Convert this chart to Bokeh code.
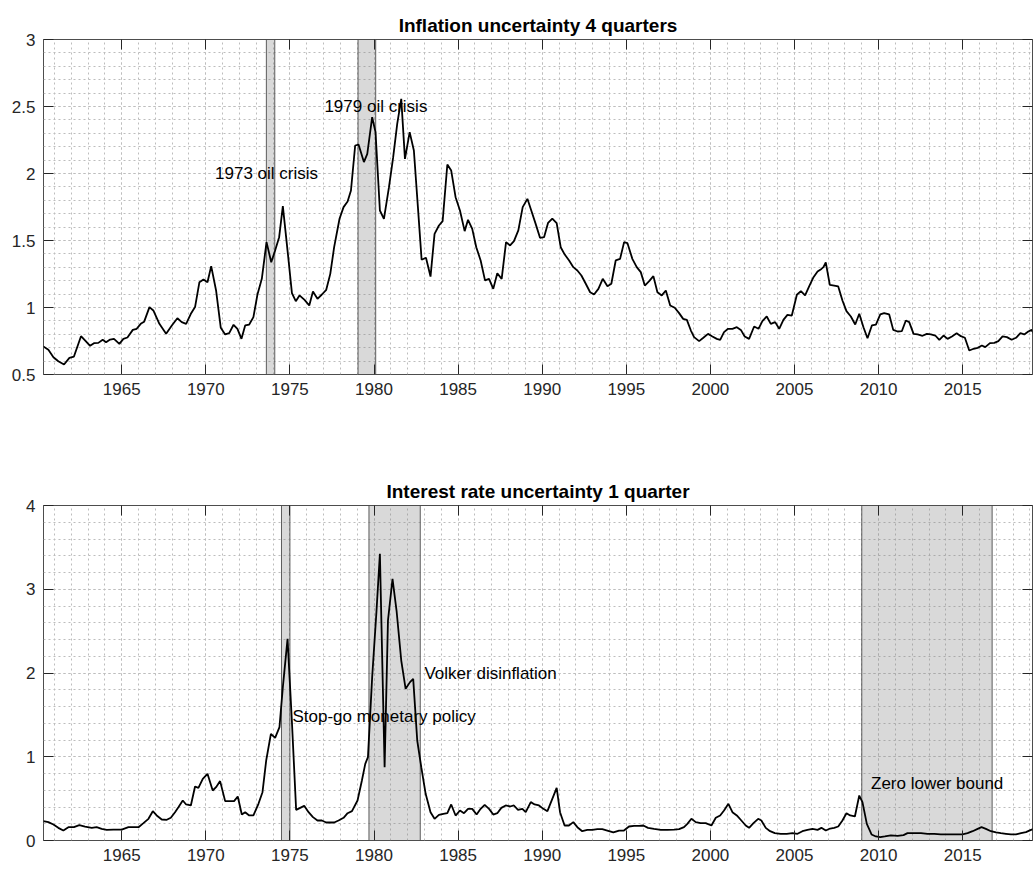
from bokeh.plotting import figure
from bokeh.layouts import column
from bokeh.models import (SingleIntervalTicker, NumeralTickFormatter, LinearAxis,
                          Range1d, ColumnDataSource, BoxAnnotation)
from bokeh.core.properties import value
from bokeh.embed import file_html
from bokeh.resources import INLINE

# ---------------- data ----------------
infl_year = [1960.34, 1960.64, 1960.94, 1961.23, 1961.57, 1961.89, 1962.16, 1962.58, 1962.86, 1963.12,
             1963.35, 1963.61, 1963.87, 1964.07, 1964.31, 1964.54, 1964.86, 1965.10, 1965.34, 1965.66,
             1965.89, 1966.13, 1966.33, 1966.65, 1966.88, 1967.24, 1967.64, 1967.98, 1968.31, 1968.57,
             1968.83, 1969.11, 1969.36, 1969.62, 1969.86, 1970.10, 1970.32, 1970.61, 1970.89, 1971.15,
             1971.39, 1971.65, 1971.88, 1972.12, 1972.34, 1972.58, 1972.83, 1973.07, 1973.33, 1973.61,
             1973.89, 1974.12, 1974.36, 1974.58, 1974.88, 1975.12, 1975.35, 1975.57, 1975.87, 1976.15,
             1976.37, 1976.64, 1976.90, 1977.16, 1977.40, 1977.63, 1977.95, 1978.19, 1978.43, 1978.63,
             1978.88, 1979.08, 1979.40, 1979.60, 1979.89, 1980.09, 1980.35, 1980.59, 1980.89, 1981.14,
             1981.38, 1981.62, 1981.84, 1982.12, 1982.37, 1982.61, 1982.83, 1983.09, 1983.36, 1983.60,
             1983.86, 1984.08, 1984.36, 1984.59, 1984.85, 1985.11, 1985.39, 1985.59, 1985.84, 1986.08,
             1986.34, 1986.60, 1986.84, 1987.09, 1987.33, 1987.59, 1987.85, 1988.09, 1988.32, 1988.58,
             1988.84, 1989.12, 1989.35, 1989.61, 1989.87, 1990.11, 1990.35, 1990.60, 1990.86, 1991.10,
             1991.34, 1991.60, 1991.85, 1992.09, 1992.33, 1992.59, 1992.85, 1993.08, 1993.34, 1993.60,
             1993.88, 1994.11, 1994.37, 1994.63, 1994.87, 1995.07, 1995.36, 1995.62, 1995.86, 1996.10,
             1996.36, 1996.61, 1996.85, 1997.11, 1997.35, 1997.61, 1997.88, 1998.14, 1998.38, 1998.60,
             1998.84, 1999.03, 1999.33, 1999.58, 1999.86, 2000.12, 2000.38, 2000.58, 2000.81, 2001.05,
             2001.31, 2001.57, 2001.81, 2002.04, 2002.30, 2002.60, 2002.86, 2003.09, 2003.35, 2003.59,
             2003.85, 2004.09, 2004.34, 2004.58, 2004.84, 2005.14, 2005.38, 2005.63, 2005.87, 2006.13,
             2006.37, 2006.60, 2006.72, 2006.86, 2007.10, 2007.36, 2007.60, 2007.85, 2008.09, 2008.35,
             2008.61, 2008.85, 2009.10, 2009.34, 2009.60, 2009.84, 2010.10, 2010.33, 2010.63, 2010.87,
             2011.13, 2011.38, 2011.62, 2011.82, 2012.08, 2012.32, 2012.61, 2012.87, 2013.11, 2013.37,
             2013.61, 2013.86, 2014.10, 2014.36, 2014.64, 2014.89, 2015.13, 2015.39, 2015.65, 2015.89,
             2016.14, 2016.34, 2016.62, 2016.88, 2017.12, 2017.37, 2017.63, 2017.91, 2018.17, 2018.43,
             2018.66, 2018.90, 2019.10, 2019.24]
infl_val = [0.709, 0.684, 0.629, 0.599, 0.575, 0.624, 0.634, 0.786, 0.749, 0.714,
            0.734, 0.736, 0.759, 0.741, 0.761, 0.766, 0.729, 0.766, 0.776, 0.833,
            0.841, 0.878, 0.893, 1.003, 0.978, 0.878, 0.804, 0.866, 0.920, 0.891,
            0.878, 0.953, 1.003, 1.189, 1.209, 1.189, 1.309, 1.127, 0.848, 0.799,
            0.809, 0.871, 0.841, 0.766, 0.866, 0.873, 0.928, 1.097, 1.214, 1.488,
            1.338, 1.425, 1.525, 1.756, 1.400, 1.107, 1.047, 1.090, 1.057, 1.015,
            1.119, 1.065, 1.097, 1.132, 1.251, 1.450, 1.662, 1.749, 1.791, 1.873,
            2.209, 2.216, 2.085, 2.147, 2.420, 2.309, 1.724, 1.662, 1.898, 2.122,
            2.371, 2.557, 2.109, 2.309, 2.172, 1.749, 1.356, 1.371, 1.231, 1.550,
            1.612, 1.644, 2.067, 2.022, 1.823, 1.724, 1.570, 1.654, 1.587, 1.450,
            1.351, 1.202, 1.214, 1.139, 1.256, 1.214, 1.488, 1.463, 1.495, 1.575,
            1.749, 1.811, 1.724, 1.624, 1.520, 1.525, 1.632, 1.664, 1.629, 1.450,
            1.395, 1.351, 1.301, 1.276, 1.239, 1.177, 1.114, 1.097, 1.139, 1.214,
            1.159, 1.177, 1.351, 1.363, 1.488, 1.480, 1.363, 1.301, 1.264, 1.164,
            1.197, 1.234, 1.114, 1.090, 1.127, 1.015, 0.998, 0.958, 0.915, 0.908,
            0.828, 0.779, 0.749, 0.774, 0.803, 0.784, 0.766, 0.759, 0.816, 0.841,
            0.841, 0.853, 0.833, 0.784, 0.766, 0.858, 0.841, 0.898, 0.933, 0.878,
            0.891, 0.841, 0.908, 0.945, 0.940, 1.095, 1.122, 1.090, 1.157, 1.226,
            1.269, 1.288, 1.301, 1.336, 1.169, 1.164, 1.157, 1.052, 0.973, 0.933,
            0.873, 0.953, 0.853, 0.771, 0.866, 0.873, 0.948, 0.958, 0.948, 0.833,
            0.821, 0.823, 0.903, 0.891, 0.803, 0.799, 0.789, 0.803, 0.799, 0.791,
            0.759, 0.791, 0.766, 0.784, 0.808, 0.786, 0.774, 0.679, 0.692, 0.699,
            0.716, 0.704, 0.734, 0.736, 0.749, 0.784, 0.779, 0.759, 0.774, 0.808,
            0.799, 0.821, 0.833, 0.803]

rate_year = [1960.34, 1960.64, 1960.94, 1961.23, 1961.53, 1961.83, 1962.16, 1962.48, 1962.82, 1963.22,
             1963.51, 1963.81, 1964.11, 1964.50, 1965.00, 1965.40, 1965.70, 1966.00, 1966.29, 1966.59,
             1966.85, 1967.08, 1967.38, 1967.68, 1967.92, 1968.17, 1968.37, 1968.63, 1968.83, 1969.11,
             1969.36, 1969.56, 1969.82, 1970.10, 1970.41, 1970.61, 1970.85, 1971.15, 1971.45, 1971.68,
             1971.90, 1972.14, 1972.34, 1972.58, 1972.83, 1973.13, 1973.37, 1973.59, 1973.87, 1974.12,
             1974.38, 1974.58, 1974.86, 1975.12, 1975.37, 1975.61, 1975.85, 1976.11, 1976.37, 1976.64,
             1976.90, 1977.16, 1977.40, 1977.63, 1977.89, 1978.19, 1978.43, 1978.69, 1979.02, 1979.28,
             1979.48, 1979.64, 1979.89, 1980.15, 1980.35, 1980.63, 1980.83, 1981.10, 1981.34, 1981.62,
             1981.88, 1982.14, 1982.33, 1982.57, 1982.81, 1983.07, 1983.36, 1983.60, 1983.86, 1984.12,
             1984.36, 1984.59, 1984.85, 1985.11, 1985.35, 1985.59, 1985.84, 1986.10, 1986.34, 1986.58,
             1986.84, 1987.09, 1987.33, 1987.57, 1987.83, 1988.09, 1988.32, 1988.56, 1988.82, 1989.02,
             1989.32, 1989.55, 1989.81, 1990.07, 1990.31, 1990.60, 1990.86, 1991.06, 1991.33, 1991.59,
             1991.85, 1992.09, 1992.38, 1992.68, 1992.98, 1993.28, 1993.57, 1993.87, 1994.23, 1994.57,
             1994.86, 1995.16, 1995.46, 1995.76, 1996.01, 1996.29, 1996.65, 1997.05, 1997.44, 1997.84,
             1998.14, 1998.43, 1998.63, 1998.87, 1999.13, 1999.42, 1999.72, 2000.06, 2000.32, 2000.58,
             2000.81, 2001.07, 2001.31, 2001.57, 2001.84, 2002.10, 2002.30, 2002.56, 2002.84, 2003.03,
             2003.29, 2003.55, 2003.83, 2004.18, 2004.54, 2004.88, 2005.18, 2005.47, 2005.77, 2006.07,
             2006.37, 2006.60, 2006.86, 2007.12, 2007.36, 2007.60, 2007.85, 2008.09, 2008.31, 2008.59,
             2008.85, 2009.04, 2009.30, 2009.58, 2009.84, 2010.10, 2010.37, 2010.73, 2011.13, 2011.48,
             2011.72, 2012.12, 2012.52, 2012.91, 2013.31, 2013.70, 2014.10, 2014.50, 2014.99, 2015.29,
             2015.59, 2015.89, 2016.12, 2016.38, 2016.68, 2016.98, 2017.27, 2017.57, 2017.87, 2018.17,
             2018.47, 2018.76, 2019.06, 2019.24]
rate_val = [0.231, 0.219, 0.191, 0.151, 0.119, 0.159, 0.159, 0.183, 0.167, 0.151,
            0.159, 0.139, 0.127, 0.131, 0.131, 0.159, 0.159, 0.159, 0.207, 0.259,
            0.350, 0.299, 0.251, 0.247, 0.271, 0.338, 0.398, 0.478, 0.430, 0.418,
            0.645, 0.629, 0.736, 0.796, 0.597, 0.637, 0.709, 0.470, 0.470, 0.470,
            0.526, 0.310, 0.338, 0.299, 0.299, 0.438, 0.577, 0.955, 1.274, 1.226,
            1.353, 1.831, 2.408, 1.413, 0.366, 0.390, 0.414, 0.338, 0.279, 0.239,
            0.239, 0.215, 0.215, 0.215, 0.239, 0.271, 0.326, 0.350, 0.478, 0.716,
            0.915, 0.995, 1.950, 2.746, 3.423, 0.876, 2.627, 3.124, 2.746, 2.149,
            1.811, 1.891, 1.930, 1.194, 0.876, 0.557, 0.338, 0.259, 0.306, 0.318,
            0.326, 0.430, 0.298, 0.358, 0.326, 0.378, 0.378, 0.310, 0.378, 0.426,
            0.378, 0.310, 0.326, 0.390, 0.418, 0.406, 0.418, 0.366, 0.378, 0.338,
            0.458, 0.430, 0.418, 0.378, 0.350, 0.497, 0.629, 0.338, 0.179, 0.179,
            0.219, 0.159, 0.111, 0.127, 0.127, 0.135, 0.135, 0.119, 0.096, 0.119,
            0.119, 0.167, 0.175, 0.175, 0.179, 0.151, 0.139, 0.127, 0.127, 0.131,
            0.135, 0.159, 0.199, 0.259, 0.219, 0.207, 0.207, 0.179, 0.271, 0.299,
            0.358, 0.438, 0.338, 0.299, 0.239, 0.179, 0.151, 0.207, 0.259, 0.239,
            0.151, 0.111, 0.088, 0.080, 0.080, 0.088, 0.080, 0.111, 0.127, 0.139,
            0.127, 0.151, 0.119, 0.143, 0.151, 0.167, 0.239, 0.326, 0.299, 0.287,
            0.537, 0.458, 0.199, 0.072, 0.048, 0.040, 0.048, 0.060, 0.056, 0.064,
            0.088, 0.088, 0.088, 0.080, 0.080, 0.072, 0.072, 0.072, 0.072, 0.088,
            0.111, 0.139, 0.159, 0.139, 0.111, 0.096, 0.088, 0.080, 0.072, 0.072,
            0.088, 0.100, 0.127, 0.139]

infl_shade_start = [1973.6, 1979.05]
infl_shade_end = [1974.1, 1980.1]
rate_shade_start = [1974.5, 1979.7, 2009.0]
rate_shade_end = [1975.0, 1982.75, 2016.75]

infl_labels = ["1973 oil crisis", "1979 oil crisis"]
infl_label_x = [1970.55, 1977.05]
infl_label_y = [2.0, 2.5]
rate_labels = ["Stop-go monetary policy", "Volker disinflation", "Zero lower bound"]
rate_label_x = [1975.15, 1983.0, 2009.55]
rate_label_y = [1.48, 2.0, 0.68]

titles = ["Inflation uncertainty 4 quarters", "Interest rate uncertainty 1 quarter"]
x_limits = (1960.35, 2019.15)

FONT = "Liberation Sans"
AX_COLOR = "#262626"
GRID_COLOR = "#bdbdbd"


def style_axis(ax, show_labels=True):
    ax.major_tick_in = 10
    ax.major_tick_out = 0
    ax.minor_tick_in = 0
    ax.minor_tick_out = 0
    ax.axis_line_color = None
    ax.major_tick_line_color = AX_COLOR
    ax.major_tick_line_width = 1
    ax.major_label_text_font = FONT
    ax.major_label_text_color = AX_COLOR
    if show_labels:
        ax.major_label_text_font_size = "17px"
        ax.major_label_standoff = 8
    else:
        ax.major_label_text_font_size = "0px"
        ax.major_label_standoff = 0


def make_fig(title, y0, y1, yint, ynminor, border_top, border_bottom,
             years, vals, s_start, s_end, lab_x, lab_y, labs):
    p = figure(width=1033, height=436,
               x_range=Range1d(*x_limits), y_range=Range1d(y0, y1),
               output_backend="svg", toolbar_location=None,
               min_border_left=43, min_border_right=1,
               min_border_top=border_top, min_border_bottom=border_bottom,
               title=title)
    p.title.align = "center"
    p.title.text_font = FONT
    p.title.text_font_size = "19px"
    p.title.text_font_style = "bold"
    p.title.text_color = "black"
    p.title.standoff = 8

    p.background_fill_color = "white"
    p.border_fill_color = "white"
    p.outline_line_color = "#4d4d4d"
    p.outline_line_width = 1

    xt = SingleIntervalTicker(interval=5, num_minor_ticks=5)
    yt = SingleIntervalTicker(interval=yint, num_minor_ticks=ynminor)
    p.xaxis.ticker = xt
    p.yaxis.ticker = yt
    p.xgrid.ticker = xt
    p.ygrid.ticker = yt
    p.xaxis.formatter = NumeralTickFormatter(format="0")
    p.yaxis.formatter = NumeralTickFormatter(format="0.[0]")
    style_axis(p.xaxis[0])
    style_axis(p.yaxis[0])

    # mirrored inward ticks on the top and right edges, as in a boxed axes
    top_ax = LinearAxis(ticker=xt)
    style_axis(top_ax, show_labels=False)
    p.add_layout(top_ax, "above")
    right_ax = LinearAxis(ticker=yt)
    style_axis(right_ax, show_labels=False)
    p.add_layout(right_ax, "right")

    for g in (p.xgrid[0], p.ygrid[0]):
        g.grid_line_color = GRID_COLOR
        g.grid_line_dash = "2 3"
        g.grid_line_width = 1
        g.minor_grid_line_color = GRID_COLOR
        g.minor_grid_line_dash = "2 3"
        g.minor_grid_line_width = 1

    for s, e in zip(s_start, s_end):
        p.add_layout(BoxAnnotation(left=s, right=e, fill_color="#808080", fill_alpha=0.3,
                                   line_color="#4d4d4d", line_width=1, line_alpha=0.9,
                                   level="underlay"))

    p.line(years, vals, line_color="black", line_width=1.8)

    src = ColumnDataSource(dict(x=lab_x, y=lab_y, t=labs))
    p.text(x="x", y="y", text="t", source=src, text_font=value(FONT),
           text_font_size="17px", text_color="black",
           text_align="left", text_baseline="middle")
    return p


p1 = make_fig(titles[0], 0.5, 3.0, 0.5, 5, 39, 62,
              infl_year, infl_val, infl_shade_start, infl_shade_end,
              infl_label_x, infl_label_y, infl_labels)
p2 = make_fig(titles[1], 0.0, 4.0, 1.0, 5, 69, 32,
              rate_year, rate_val, rate_shade_start, rate_shade_end,
              rate_label_x, rate_label_y, rate_labels)

layout = column(p1, p2, spacing=0)
open("out.html", "w").write(file_html(layout, INLINE))
